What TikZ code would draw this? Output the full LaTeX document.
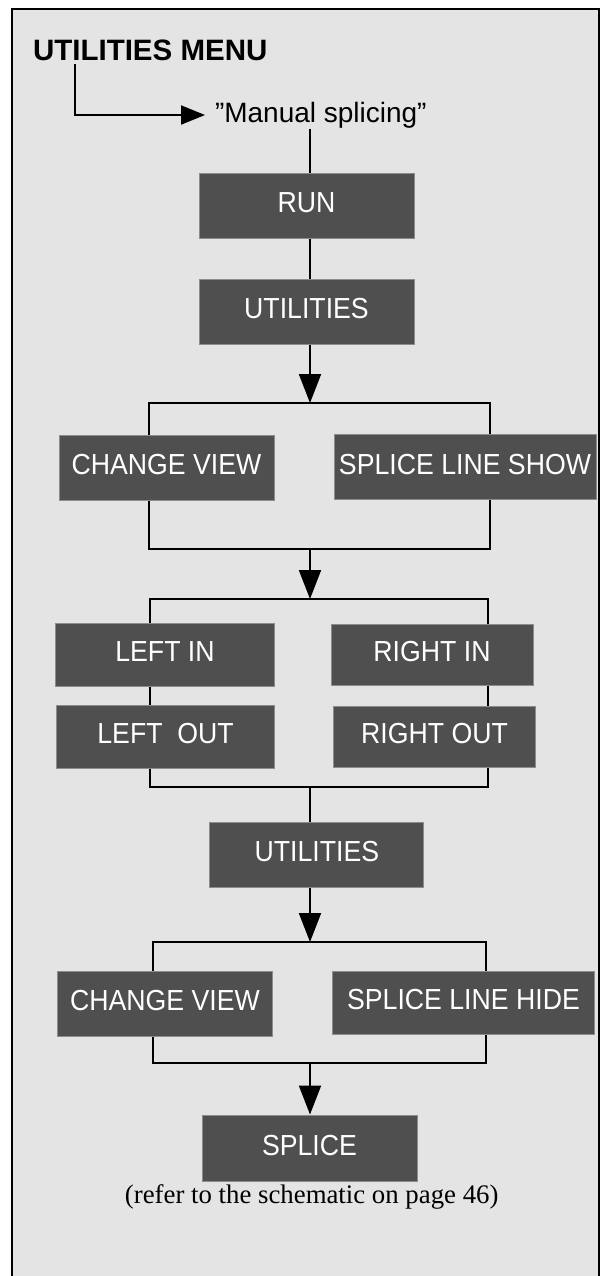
\documentclass[tikz,border=0pt]{standalone}
\usepackage{fontspec}
\setmainfont{Liberation Sans}
\newfontfamily\boxfont{Liberation Sans}[FakeStretch=0.92]
\newfontfamily\notefont{Liberation Serif}
\usetikzlibrary{arrows.meta}
\definecolor{panelgray}{RGB}{228,228,228}
\definecolor{boxfill}{RGB}{79,79,79}
\definecolor{boxedge}{RGB}{140,140,140}

\begin{document}
\begin{tikzpicture}[x=0.5pt, y=-0.5pt, line width=1pt,
    >={Triangle[length=14.5pt,width=11pt]},
    menubox/.style={draw=boxedge, line width=0.5pt, fill=boxfill, text=white,
      inner sep=0pt, text height=0.716em, text depth=0pt,
      font=\boxfont\fontsize{14.5}{17}\selectfont}]
    % panel (open at the bottom)
    \useasboundingbox (0,0) rectangle (606,1276);
    \fill[panelgray] (12,9) rectangle (599,1276);
    \draw (12,1276) -- (12,9) -- (599,9) -- (599,1276);

    % heading and menu entry
    \node[anchor=base west, inner xsep=0pt, inner ysep=1.5pt, font=\bfseries\fontsize{14.75}{18}\selectfont] (menu) at (32,60) {UTILITIES MENU};
    \node[anchor=base west, inner xsep=4.5pt, inner ysep=0pt, font=\fontsize{14}{17}\selectfont] (manual) at (205,122) {”Manual splicing”};
    \coordinate (menuturn) at (75,115);
    \draw[-{Triangle[length=12pt,width=9.5pt]}] (menu.south -| menuturn) -- (menuturn) -- (manual.west |- menuturn);

    % main column
    \coordinate (axis) at (310,0);
    \node[menubox, minimum width=107.5pt, minimum height=32.5pt] (run) at (306.5,205.5) {RUN};
    \node[menubox, minimum width=107.5pt, minimum height=32.5pt] (util1) at (306.5,311.5) {UTILITIES};

    % first pair
    \node[menubox, minimum width=107.5pt, minimum height=32.5pt] (view1) at (166.5,467.5) {CHANGE VIEW};
    \node[menubox, minimum width=131pt, minimum height=32.5pt] (show) at (465,467) {SPLICE LINE SHOW};

    % left / right columns
    \node[menubox, minimum width=109.5pt, minimum height=31.5pt] (leftin) at (165,654.5) {LEFT IN};
    \node[menubox, minimum width=101pt, minimum height=30.5pt] (rightin) at (432,654.5) {RIGHT IN};
    \node[menubox, minimum width=109pt, minimum height=31.5pt] (leftout) at (165.6,736.5) {LEFT\ \ OUT};
    \node[menubox, minimum width=101pt, minimum height=30.5pt] (rightout) at (434.5,736.5) {RIGHT OUT};

    % second pass
    \node[menubox, minimum width=107pt, minimum height=32.5pt] (util2) at (316.9,854.5) {UTILITIES};
    \node[menubox, minimum width=107.5pt, minimum height=32.5pt] (view2) at (165,1003.5) {CHANGE VIEW};
    \node[menubox, minimum width=131pt, minimum height=31.5pt] (hide) at (463.5,1002.5) {SPLICE LINE HIDE};
    \node[menubox, minimum width=107.5pt, minimum height=33pt] (splice) at (309.5,1148) {SPLICE};
    \node[anchor=base, inner sep=0pt, font=\notefont\fontsize{13.4}{16}\selectfont] (note) at (311.7,1203) {(refer to the schematic on page 46)};

    % bracket corners
    \coordinate (forkAl) at (149,403);   \coordinate (forkAr) at (490,403);
    \coordinate (joinAl) at (148.5,549); \coordinate (joinAr) at (490,549);
    \coordinate (forkBl) at (150,599);   \coordinate (forkBr) at (487.5,599);
    \coordinate (joinBl) at (150,787);   \coordinate (joinBr) at (487.5,787);
    \coordinate (forkCl) at (153,942);   \coordinate (forkCr) at (486,942);
    \coordinate (joinCl) at (153,1063);  \coordinate (joinCr) at (486,1063);

    % connectors
    \draw (manual.south -| axis) -- (run.north -| axis);
    \draw (run.south -| axis) -- (util1.north -| axis);
    \draw[->] (util1.south -| axis) -- (axis |- forkAl);
    \draw (view1.north -| forkAl) -- (forkAl) -- (forkAr) -- (show.north -| forkAr);
    \draw (view1.south -| joinAl) -- (joinAl) -- (joinAr) -- (show.south -| joinAr);
    \draw[->] (axis |- joinAl) -- (axis |- forkBl);
    \draw (leftin.north -| forkBl) -- (forkBl) -- (forkBr) -- (rightin.north -| forkBr);
    \draw (leftin.south -| forkBl) -- (leftout.north -| forkBl);
    \draw (rightin.south -| forkBr) -- (rightout.north -| forkBr);
    \draw (leftout.south -| joinBl) -- (joinBl) -- (joinBr) -- (rightout.south -| joinBr);
    \draw (axis |- joinBl) -- (util2.north -| axis);
    \draw[->] (util2.south -| axis) -- (axis |- forkCl);
    \draw (view2.north -| forkCl) -- (forkCl) -- (forkCr) -- (hide.north -| forkCr);
    \draw (view2.south -| joinCl) -- (joinCl) -- (joinCr) -- (hide.south -| joinCr);
    \draw[->] (axis |- joinCl) -- (splice.north -| axis);
  \end{tikzpicture}
\end{document}
